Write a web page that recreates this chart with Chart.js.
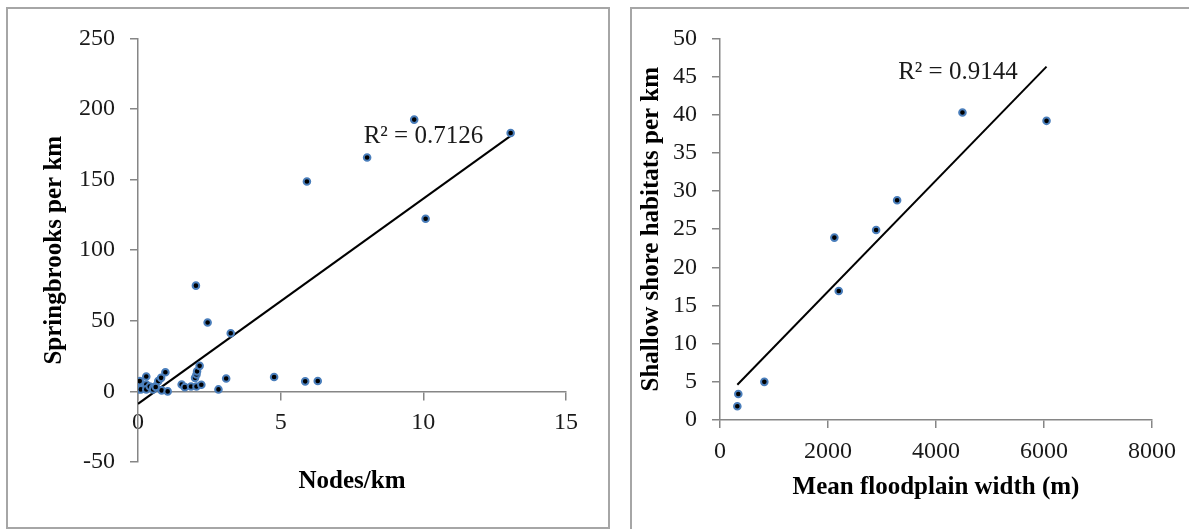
<!DOCTYPE html>
<html>
<head>
<meta charset="utf-8">
<script src="https://cdn.jsdelivr.net/npm/chart.js@4.4.1/dist/chart.umd.min.js"></script>
<style>
    body { margin: 0; background: #fff; width: 1189px; height: 529px; overflow: hidden; position: relative; }
    .panel { position: absolute; border: 2px solid #a6a6a6; box-sizing: border-box; }
    .box { position: absolute; }
</style>
</head>
<body>
<div class="panel" style="left:6px; top:7px; width:604px; height:522px;"></div>
<div class="panel" style="left:630px; top:7px; width:570px; height:540px;"></div>
<div class="box" style="left:8px; top:9px; width:599px; height:518px;"><canvas id="nodesChart"></canvas></div>
<div class="box" style="left:633px; top:9px; width:556px; height:520px;"><canvas id="floodplainChart"></canvas></div>
<script>
// Left panel: springbrooks vs nodes
var nodesPerKm = [0.0, 0.06, 0.1, 0.29, 0.29, 0.29, 0.41, 0.53, 0.6, 0.71, 0.81, 0.96, 0.83, 1.04,
    1.53, 1.64, 1.86, 2.05, 2.22, 2.0, 2.05, 2.07, 2.16, 2.82, 3.09, 4.77, 5.86, 6.3,
    2.03, 2.44, 3.25, 5.92, 8.03, 9.68, 10.08, 13.06, 0.53, 0.62];
var springbrooksPerKm = [1.4, 7.3, 1.4, 10.6, 4.9, 1.4, 3.5, 2.6, 3.5, 7.3, 9.6, 13.6, 0.7, 0.0,
    4.9, 3.0, 3.5, 3.5, 4.7, 9.6, 12.0, 14.2, 18.1, 1.4, 9.1, 10.2, 7.1, 7.4,
    74.9, 48.8, 41.2, 148.7, 165.6, 192.5, 122.3, 183.0, 1.4, 3.1];
var nodesTrend = { slope: 14.53, intercept: -8.8, r2: '0.7126' };
var nodesXTicks = [0, 5, 10, 15];
var nodesYTicks = [-50, 0, 50, 100, 150, 200, 250];

// Right panel: shallow shore habitats vs floodplain width
var floodplainWidth = [321, 339, 821, 2118, 2199, 2891, 3280, 4490, 6047];
var shoreHabitats = [1.8, 3.4, 5.0, 23.9, 16.9, 24.9, 28.8, 40.3, 39.2];
var floodTrend = { slope: 0.00728, intercept: 2.28, r2: '0.9144' };
var floodXTicks = [0, 2000, 4000, 6000, 8000];
var floodYTicks = [0, 5, 10, 15, 20, 25, 30, 35, 40, 45, 50];

var serif = '"Liberation Serif", "DejaVu Serif", serif';
var axisGray = '#868686';
var textColor = '#1a1a1a';

function toPoints(xs, ys) {
    return xs.map(function (x, i) { return { x: x, y: ys[i] }; });
}

function trendPoints(xs, trend) {
    var lo = Math.min.apply(null, xs), hi = Math.max.apply(null, xs);
    return [lo, hi].map(function (x) { return { x: x, y: trend.slope * x + trend.intercept }; });
}

// draws the "R² = ..." note, anchored in data units
var r2Label = {
    id: 'r2Label',
    afterDatasetsDraw: function (chart, args, opts) {
        var ctx = chart.ctx;
        ctx.save();
        ctx.font = '25px ' + serif;
        ctx.fillStyle = textColor;
        ctx.textBaseline = 'middle';
        ctx.textAlign = 'left';
        ctx.fillText(opts.text, chart.scales.x.getPixelForValue(opts.x), chart.scales.y.getPixelForValue(opts.y));
        ctx.restore();
    }
};

function fixedTicks(values) {
    return function (scale) {
        scale.ticks = values.map(function (v) { return { value: v }; });
    };
}

function plainNumber(value) {
    return String(value);
}

function scatterConfig(s) {
    return {
        type: 'scatter',
        data: {
            datasets: [{
                data: toPoints(s.xs, s.ys),
                pointRadius: 3.3,
                pointBackgroundColor: '#000',
                pointBorderColor: '#4a7ebb',
                pointBorderWidth: 2
            }, {
                type: 'line',
                data: trendPoints(s.xs, s.trend),
                borderColor: '#000',
                borderWidth: 2,
                pointRadius: 0,
                fill: false
            }]
        },
        options: {
            responsive: true,
            maintainAspectRatio: false,
            animation: false,
            devicePixelRatio: 1,
            layout: { padding: s.padding },
            plugins: {
                legend: { display: false },
                tooltip: { enabled: false },
                r2Label: { text: 'R\u00b2 = ' + s.trend.r2, x: s.labelAt[0], y: s.labelAt[1] }
            },
            scales: {
                x: {
                    type: 'linear',
                    position: s.xPosition,
                    min: s.xTicks[0],
                    max: s.xTicks[s.xTicks.length - 1],
                    afterBuildTicks: fixedTicks(s.xTicks),
                    afterFit: function (scale) { scale.height = s.xHeight; },
                    grid: { drawOnChartArea: false, color: axisGray, lineWidth: 1.5, tickLength: 8 },
                    border: { color: axisGray, width: 1.5 },
                    ticks: { color: textColor, font: { family: serif, size: 24 }, padding: 9, maxRotation: 0, callback: plainNumber },
                    title: {
                        display: true,
                        text: s.xTitle,
                        color: '#000',
                        font: { family: serif, size: 25, weight: 'bold' },
                        padding: { top: 0, bottom: s.xTitlePad }
                    }
                },
                y: {
                    type: 'linear',
                    min: s.yTicks[0],
                    max: s.yTicks[s.yTicks.length - 1],
                    afterBuildTicks: fixedTicks(s.yTicks),
                    afterFit: function (scale) { scale.width = s.yWidth; },
                    grid: { drawOnChartArea: false, color: axisGray, lineWidth: 1.5, tickLength: 8 },
                    border: { color: axisGray, width: 1.5 },
                    ticks: { color: textColor, font: { family: serif, size: 24 }, padding: 15, callback: plainNumber },
                    title: {
                        display: true,
                        text: s.yTitle,
                        color: '#000',
                        font: { family: serif, size: 25, weight: 'bold' },
                        padding: { top: s.yTitlePad, bottom: 0 }
                    }
                }
            }
        },
        plugins: [r2Label]
    };
}

new Chart(document.getElementById('nodesChart'), scatterConfig({
    xs: nodesPerKm, ys: springbrooksPerKm, trend: nodesTrend,
    xTicks: nodesXTicks, yTicks: nodesYTicks,
    xTitle: 'Nodes/km', yTitle: 'Springbrooks per km',
    xPosition: { y: 0 }, xHeight: 105, xTitlePad: 0,
    yWidth: 100, yTitlePad: 2,
    padding: { left: 30, right: 41, top: 27, bottom: 65 },
    labelAt: [7.91, 180.3]
}));

new Chart(document.getElementById('floodplainChart'), scatterConfig({
    xs: floodplainWidth, ys: shoreHabitats, trend: floodTrend,
    xTicks: floodXTicks, yTicks: floodYTicks,
    xTitle: 'Mean floodplain width (m)', yTitle: 'Shallow shore habitats per km',
    xPosition: 'bottom', xHeight: 89, xTitlePad: 6,
    yWidth: 84, yTitlePad: 1,
    padding: { left: 3, right: 37, top: 24, bottom: 20 },
    labelAt: [3299, 45.5]
}));
</script>
</body>
</html>
